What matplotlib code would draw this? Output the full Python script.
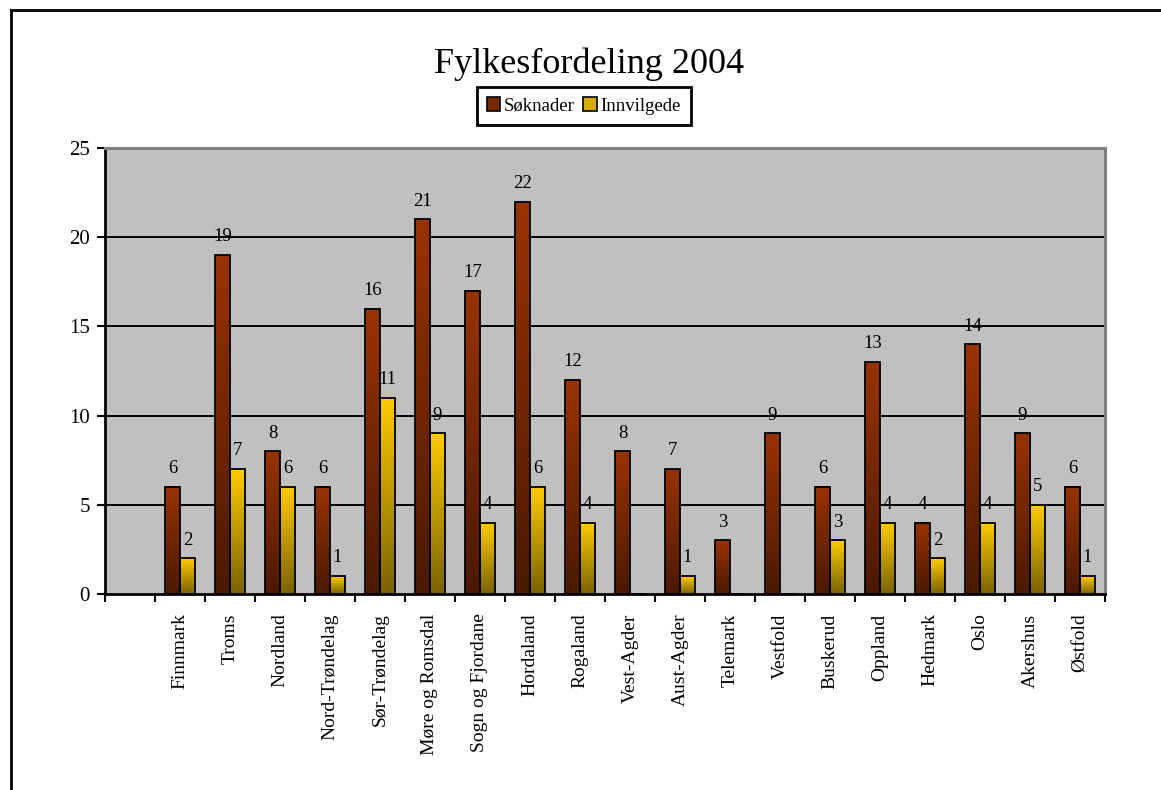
import numpy as np
import matplotlib
matplotlib.use("Agg")
import matplotlib.pyplot as plt
from matplotlib.colors import LinearSegmentedColormap
from matplotlib.patches import Patch
from matplotlib.lines import Line2D

categories = ["Finnmark", "Troms", "Nordland", "Nord-Trøndelag", "Sør-Trøndelag",
              "Møre og Romsdal", "Sogn og Fjordane", "Hordaland", "Rogaland",
              "Vest-Agder", "Aust-Agder", "Telemark", "Vestfold", "Buskerud",
              "Oppland", "Hedmark", "Oslo", "Akershus", "Østfold"]
soknader = [6, 19, 8, 6, 16, 21, 17, 22, 12, 8, 7, 3, 9, 6, 13, 4, 14, 9, 6]
innvilgede = [2, 7, 6, 1, 11, 9, 4, 6, 4, 0, 1, 0, 0, 3, 4, 2, 4, 5, 1]
yticks = [0, 5, 10, 15, 20, 25]
title = "Fylkesfordeling 2004"
series_names = ["Søknader", "Innvilgede"]

plt.rcParams['font.family'] = ['Liberation Serif', 'DejaVu Serif']

W, H = 1161, 790
fig = plt.figure(figsize=(W / 100, H / 100), dpi=100)
fig.patch.set_facecolor("white")

ax = fig.add_axes([105 / W, 1 - 594 / H, 1000 / W, 446 / H])
ax.set_facecolor("#C0C0C0")

x = np.arange(len(categories))
bw = 0.3
cmap_s = LinearSegmentedColormap.from_list("s", ["#4A1800", "#993300"])
cmap_i = LinearSegmentedColormap.from_list("i", ["#7A6200", "#FFCC00"])
grad = np.linspace(0, 1, 256).reshape(-1, 1)

ax.set_xlim(-1.5, len(categories) - 0.5)
ax.set_ylim(0, 25)

for yv in yticks[1:-1]:
    ax.axhline(yv, color="black", lw=1.4, zorder=1)

bars_s = ax.bar(x - bw / 2, soknader, bw, facecolor="none", edgecolor="black", lw=1.3, zorder=4)
bars_i = ax.bar(x + bw / 2, innvilgede, bw, facecolor="none", edgecolor="black", lw=1.3, zorder=4)

for bars, cmap in ((bars_s, cmap_s), (bars_i, cmap_i)):
    for b in bars:
        h = b.get_height()
        if h <= 0:
            continue
        ax.imshow(grad, extent=[b.get_x(), b.get_x() + b.get_width(), 0, h],
                  origin="lower", aspect="auto", cmap=cmap, zorder=3, interpolation="bilinear")

for bars, vals in ((bars_s, soknader), (bars_i, innvilgede)):
    for b, v in zip(bars, vals):
        if v == 0:
            continue
        ax.annotate(str(v), (b.get_x() + b.get_width() / 2, v), xytext=(0, 7),
                    textcoords="offset points", ha="center", va="bottom", fontsize=13.5, zorder=5)

ax.set_aspect("auto")
ax.set_yticks(yticks)
ax.set_yticklabels([str(v) for v in yticks], fontsize=15)
ax.tick_params(axis="y", direction="out", length=6, width=1.5, pad=5)

ax.set_xticks(x)
ax.set_xticklabels(categories, rotation=90, fontsize=14, va="top", ha="center")
ax.tick_params(axis="x", which="major", length=0, pad=14)
ax.set_xticks(np.arange(-1.5, len(categories)), minor=True)
ax.tick_params(axis="x", which="minor", direction="out", length=6, width=1.5)

for side in ("left", "bottom"):
    ax.spines[side].set_color("black")
    ax.spines[side].set_linewidth(2)
for side in ("top", "right"):
    ax.spines[side].set_color("#808080")
    ax.spines[side].set_linewidth(2.2)

fig.text(589 / W, 1 - 64 / H, title, ha="center", va="center", fontsize=26)

handles = [Patch(facecolor="#7A2800", edgecolor="black", lw=1.2),
           Patch(facecolor="#D9AD00", edgecolor="black", lw=1.2)]
leg = fig.legend(handles, series_names, loc="center", bbox_to_anchor=(584 / W, 1 - 106 / H),
                 ncol=2, fontsize=13.5, frameon=True, fancybox=False, framealpha=1,
                 edgecolor="black", handlelength=0.7, handleheight=0.75, handletextpad=0.2,
                 columnspacing=0.45, borderpad=0.55, borderaxespad=0)
leg.get_frame().set_linewidth(2)

fig.add_artist(Line2D([11 / W, 11 / W], [0, 1 - 10 / H], color="black", lw=2, transform=fig.transFigure))
fig.add_artist(Line2D([11 / W, 1], [1 - 10 / H, 1 - 10 / H], color="black", lw=2, transform=fig.transFigure))

fig.savefig("out.png", dpi=100)
